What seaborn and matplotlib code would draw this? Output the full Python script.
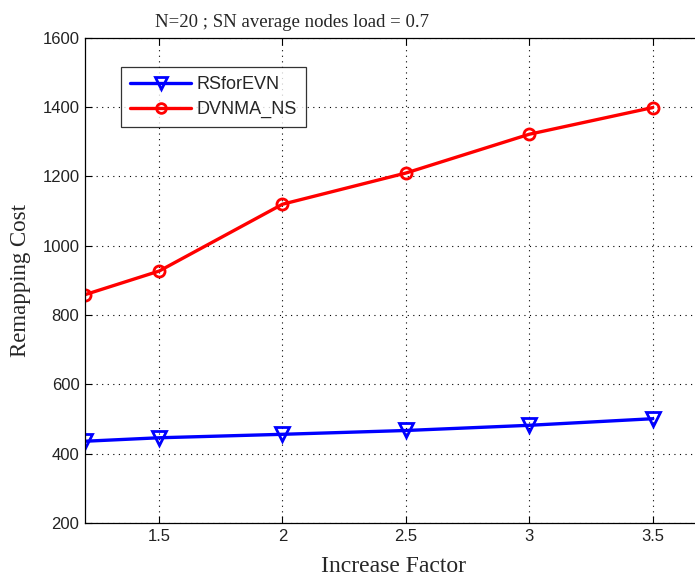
import matplotlib
matplotlib.use("Agg")
import matplotlib.pyplot as plt
from matplotlib.lines import Line2D
import seaborn as sns
import pandas as pd

increase_factor = [1.2, 1.5, 2.0, 2.5, 3.0, 3.5]
rsforevn = [436, 446, 456, 467, 482, 501]
dvnma_ns = [859, 927, 1120, 1210, 1322, 1399]
series_names = ["RSforEVN", "DVNMA_NS"]
x_ticks = [1.5, 2, 2.5, 3, 3.5]
x_tick_labels = ["1.5", "2", "2.5", "3", "3.5"]
y_ticks = [200, 400, 600, 800, 1000, 1200, 1400, 1600]

df = pd.DataFrame({
    "Increase Factor": increase_factor * 2,
    "Remapping Cost": rsforevn + dvnma_ns,
    "Method": [series_names[0]] * len(rsforevn) + [series_names[1]] * len(dvnma_ns),
})
colors = {"RSforEVN": "#0000ff", "DVNMA_NS": "#ff0000"}
markers = {"RSforEVN": "v", "DVNMA_NS": "o"}
msizes = {"RSforEVN": 10, "DVNMA_NS": 8}

sns.set_style("ticks")
plt.rcParams["font.family"] = ["Liberation Sans", "DejaVu Sans"]

fig = plt.figure(figsize=(6.95, 5.81), dpi=100)
ax = fig.add_axes([0.1223, 0.0998, 0.888, 0.835])

for name in series_names:
    sns.lineplot(
        data=df[df["Method"] == name], x="Increase Factor", y="Remapping Cost",
        color=colors[name], marker=markers[name], markersize=msizes[name],
        markerfacecolor="none", markeredgecolor=colors[name], markeredgewidth=2.0,
        linewidth=2.4, ax=ax, legend=False,
    )

ax.set_xlim(1.2, 3.7)
ax.set_ylim(200, 1600)
ax.set_xticks(x_ticks)
ax.set_xticklabels(x_tick_labels)
ax.set_yticks(y_ticks)
ax.tick_params(direction="in", top=True, right=True, labelsize=12, length=5,
               width=0.8, colors="black", labelcolor="#222222", pad=4)
ax.grid(True, linestyle=(0, (1, 4)), color="black", linewidth=0.8)
for sp in ax.spines.values():
    sp.set_color("black")
    sp.set_linewidth(0.9)

serif = ["Liberation Serif", "DejaVu Serif"]
ax.set_xlabel("Increase Factor", fontsize=17, family=serif, labelpad=9)
ax.set_ylabel("Remapping Cost", fontsize=16.5, family=serif, labelpad=8)
ax.set_title("N=20 ; SN average nodes load = 0.7", fontsize=13.5, family=serif,
             x=0.336, pad=8)

handles = [
    Line2D([], [], color=colors[n], marker=markers[n], markerfacecolor="none",
           markeredgewidth=2.0, markersize=msizes[n] - 1, linewidth=2.4)
    for n in series_names
]
leg = ax.legend(handles, series_names, loc="upper left", bbox_to_anchor=(0.058, 0.94),
                borderaxespad=0, fontsize=13, frameon=True, fancybox=False,
                edgecolor="black", handlelength=3.4, borderpad=0.5,
                labelspacing=0.45, handletextpad=0.3)
leg.get_frame().set_linewidth(0.9)

fig.savefig("out.png", dpi=100)
